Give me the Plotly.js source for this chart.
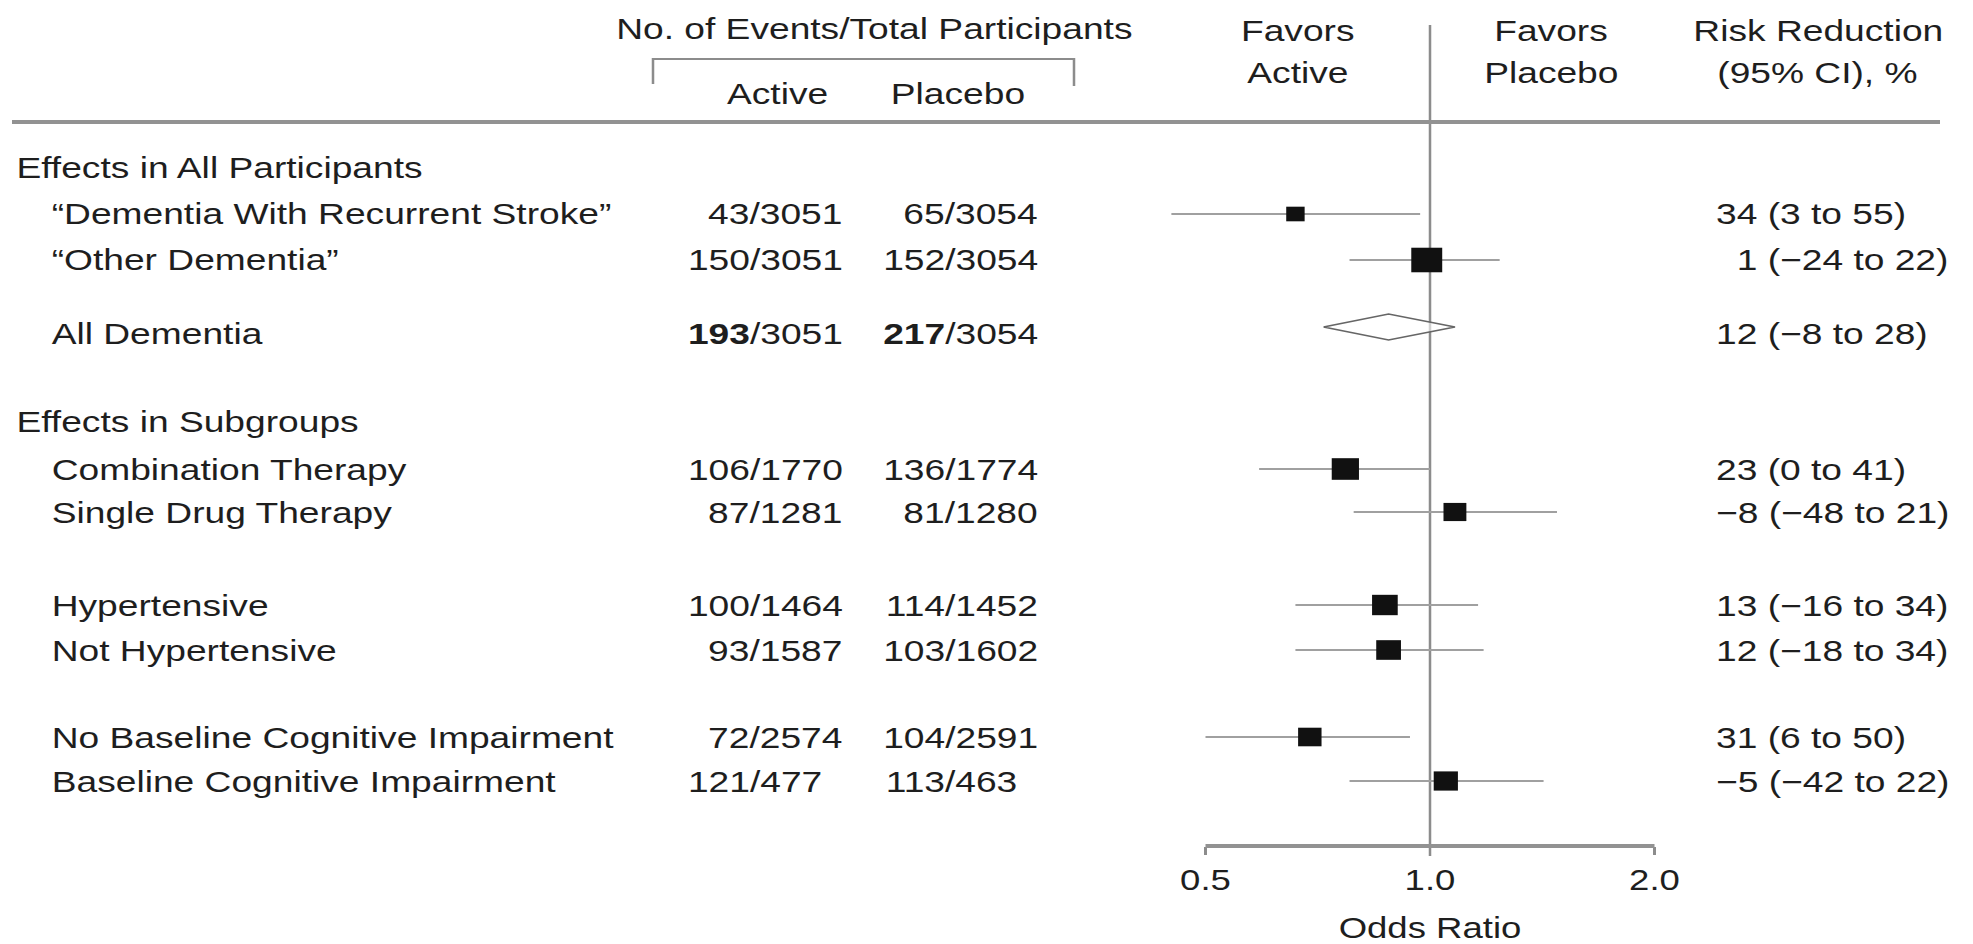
<!DOCTYPE html>
<html>
<head>
<meta charset="utf-8">
<script src="https://cdn.plot.ly/plotly-3.0.1.min.js"></script>
<style>
  html, body { margin: 0; padding: 0; background: #fff; overflow: hidden; }
  #wrap { width: 1973px; height: 944px; overflow: hidden; }
  #chart { width: 1566px; height: 944px; transform: scaleX(1.2599); transform-origin: 0 0; }
</style>
</head>
<body>
<div id="wrap"><div id="chart"></div></div>
<script>
// ---------------- DATA ----------------
const sectionHeaders = ["Effects in All Participants", "Effects in Subgroups"];
const rowLabels = [
  "\u201CDementia With Recurrent Stroke\u201D",
  "\u201COther Dementia\u201D",
  "All Dementia",
  "Combination Therapy",
  "Single Drug Therapy",
  "Hypertensive",
  "Not Hypertensive",
  "No Baseline Cognitive Impairment",
  "Baseline Cognitive Impairment"
];
const activeEvents  = [43, 150, 193, 106, 87, 100, 93, 72, 121];
const activeTotal   = [3051, 3051, 3051, 1770, 1281, 1464, 1587, 2574, 477];
const placeboEvents = [65, 152, 217, 136, 81, 114, 103, 104, 113];
const placeboTotal  = [3054, 3054, 3054, 1774, 1280, 1452, 1602, 2591, 463];
const oddsRatio = [0.66, 0.99, 0.88, 0.77, 1.08, 0.87, 0.88, 0.69, 1.05];
const ciLow     = [0.45, 0.78, 0.72, 0.59, 0.79, 0.66, 0.66, 0.50, 0.78];
const ciHigh    = [0.97, 1.24, 1.08, 1.00, 1.48, 1.16, 1.18, 0.94, 1.42];
const riskReduction = [
  "34 (3 to 55)", "\u20071 (\u221224 to 22)", "12 (\u22128 to 28)",
  "23 (0 to 41)", "\u22128 (\u221248 to 21)",
  "13 (\u221216 to 34)", "12 (\u221218 to 34)",
  "31 (6 to 50)", "\u22125 (\u221242 to 22)"
];
const summaryRow = 2;           // pooled estimate drawn as a diamond
const tickValues = [0.5, 1, 2];
const tickLabels = ["0.5", "1.0", "2.0"];
const nullValue = 1;

// ---------------- LAYOUT ----------------
const W = 1973, H = 944;
const FONT = "Liberation Sans, Arial, Helvetica, sans-serif";
const FS = 29.5;
const TXT = "#1e1e1e";
const GRAY = "#8c8c8c";
const sectionPx = [167, 421];
const rowPx = [214, 260, 333, 469, 512, 605, 650, 737, 781];
const axisPx = 846;              // vertical position of the odds-ratio axis
const refPx = 1430, pxPerDoubling = 224.5;  // horizontal position of OR = 1 and scale
const xMax = 2.5;
const px = v => v / W;
const py = v => 1 - v / H;
const orToPaper = v => (refPx + pxPerDoubling * Math.log2(v)) / W;

const span = pxPerDoubling * Math.log2(xMax);
const xDomain = [(refPx - span) / W, (refPx + span) / W];

// ---------------- TRACES ----------------
const ciX = [], ciY = [];
const sqX = [], sqY = [], sqS = [];
rowLabels.forEach((_, i) => {
  if (i === summaryRow) return;
  ciX.push(ciLow[i], ciHigh[i], null);
  ciY.push(rowPx[i], rowPx[i], null);
  sqX.push(oddsRatio[i]);
  sqY.push(rowPx[i]);
  const a = activeEvents[i], b = activeTotal[i] - a, c = placeboEvents[i], d = placeboTotal[i] - c;
  const weight = 1 / (1 / a + 1 / b + 1 / c + 1 / d);
  sqS.push(2.9 * Math.sqrt(weight));
});
const dY = rowPx[summaryRow] - 6, dH = 13;
const traces = [
  { type: "scatter", mode: "lines", x: ciX, y: ciY, hoverinfo: "skip",
    line: { color: "#a0a0a0", width: 2 }, showlegend: false },
  { type: "scatter", mode: "markers", x: sqX, y: sqY, hoverinfo: "skip", opacity: 1,
    marker: { symbol: "square", size: sqS, color: "#111111", opacity: 1, line: { width: 0 } }, showlegend: false },
  { type: "scatter", mode: "lines", hoverinfo: "skip", showlegend: false,
    x: [ciLow[summaryRow], oddsRatio[summaryRow], ciHigh[summaryRow], oddsRatio[summaryRow], ciLow[summaryRow]],
    y: [dY, dY - dH, dY, dY + dH, dY],
    fill: "toself", fillcolor: "rgba(255,255,255,0.6)", line: { color: "#666666", width: 1.6 } }
];

// ---------------- ANNOTATIONS ----------------
const annotations = [];
function ann(text, x, y, anchor) {
  annotations.push({ text: text, xref: "paper", yref: "paper", x: px(x), y: py(y),
    xanchor: anchor, yanchor: "middle", showarrow: false,
    font: { family: FONT, size: FS, color: TXT } });
}
ann("No. of Events/Total Participants", 874, 29, "center");
ann("Active", 777, 93, "center");
ann("Placebo", 958, 93, "center");
ann("Favors", 1298, 30, "center");
ann("Active", 1298, 72, "center");
ann("Favors", 1551, 30, "center");
ann("Placebo", 1551, 72, "center");
ann("Risk Reduction", 1818, 30, "center");
ann("(95% CI), %", 1818, 72, "center");
sectionHeaders.forEach((t, k) => ann(t, 14, sectionPx[k], "left"));
const pad = n => "\u2007".repeat(Math.max(0, 4 - String(n).length));
rowLabels.forEach((t, i) => {
  ann(t, 49, rowPx[i], "left");
  const ae = i === summaryRow ? "<b>" + activeEvents[i] + "</b>" : activeEvents[i];
  const pe = i === summaryRow ? "<b>" + placeboEvents[i] + "</b>" : placeboEvents[i];
  ann(ae + "/" + activeTotal[i] + pad(activeTotal[i]), 846, rowPx[i], "right");
  ann(pe + "/" + placeboTotal[i] + pad(placeboTotal[i]), 1041, rowPx[i], "right");
  ann(riskReduction[i], 1714, rowPx[i], "left");
});

// ---------------- SHAPES ----------------
const shapes = [
  { type: "line", xref: "paper", yref: "paper", x0: px(12), x1: px(1940), y0: py(122), y1: py(122),
    line: { color: "#929292", width: 4 } },
  { type: "path", xref: "paper", yref: "paper",
    path: `M ${px(653)},${py(84)} L ${px(653)},${py(59)} L ${px(1074)},${py(59)} L ${px(1074)},${py(86)}`,
    line: { color: GRAY, width: 2 } },
  { type: "line", xref: "paper", yref: "paper", x0: orToPaper(nullValue), x1: orToPaper(nullValue),
    y0: py(856), y1: py(25), layer: "below", line: { color: GRAY, width: 2 } },
  { type: "line", xref: "paper", yref: "paper",
    x0: orToPaper(tickValues[0]), x1: orToPaper(tickValues[tickValues.length - 1]),
    y0: py(axisPx), y1: py(axisPx), line: { color: "#929292", width: 4 } }
];

const layout = {
  width: 1566, height: H,
  margin: { l: 0, r: 0, t: 0, b: 0, pad: 0 },
  paper_bgcolor: "#fff", plot_bgcolor: "rgba(0,0,0,0)",
  showlegend: false,
  font: { family: FONT, size: FS, color: TXT },
  xaxis: {
    type: "log", range: [Math.log10(1 / xMax), Math.log10(xMax)], domain: xDomain,
    tickvals: tickValues, ticktext: tickLabels,
    ticks: "outside", ticklen: 8, tickwidth: 2, tickcolor: GRAY,
    showline: false, showgrid: false, zeroline: false, fixedrange: true,
    tickfont: { family: FONT, size: 29, color: TXT },
    title: { text: "Odds Ratio", font: { family: FONT, size: 29, color: TXT }, standoff: 22 }
  },
  yaxis: {
    domain: [(H - axisPx) / H, 1], range: [axisPx, 0], visible: false, fixedrange: true
  },
  shapes: shapes,
  annotations: annotations
};

Plotly.newPlot("chart", traces, layout, { staticPlot: true, displayModeBar: false });
</script>
</body>
</html>
